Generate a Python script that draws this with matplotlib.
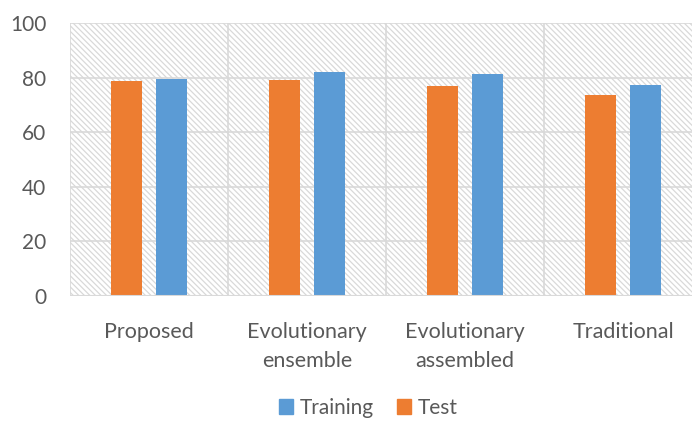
import numpy as np
import matplotlib
matplotlib.use("Agg")
import matplotlib.pyplot as plt
from matplotlib.patches import Rectangle, Patch

plt.rcParams["font.family"] = ["Lato", "DejaVu Sans"]
plt.rcParams["hatch.color"] = "#d4d4d4"
plt.rcParams["hatch.linewidth"] = 0.9

categories = ["Proposed", "Evolutionary\nensemble", "Evolutionary\nassembled", "Traditional"]
training = [79.5, 82.0, 81.5, 77.3]
test = [78.8, 79.1, 76.9, 73.6]

TXT = "#595959"
GRID = "#d9d9d9"
BLUE = "#5b9bd5"
ORANGE = "#ed7d31"

fig = plt.figure(figsize=(6.92, 4.21), dpi=100)
ax = fig.add_axes([70 / 692, 1 - 296 / 421, 632 / 692, 273 / 421])

n = len(categories)
ax.set_xlim(0, n)
ax.set_ylim(0, 100)

# hatched plot background
ax.add_patch(Rectangle((0, 0), n, 100, facecolor="white", edgecolor=GRID,
                       hatch="\\" * 6, lw=0, zorder=0))

x = np.arange(n) + 0.5
w = 0.196
off = 0.142
ax.bar(x - off, test, w, color=ORANGE, zorder=3)
ax.bar(x + off, training, w, color=BLUE, zorder=3)

for yv in range(20, 101, 20):
    ax.axhline(yv, color=GRID, lw=1.2, zorder=1)
for xv in range(n + 1):
    ax.axvline(xv, color=GRID, lw=1.2, zorder=1)

for s in ax.spines.values():
    s.set_visible(False)
ax.axhline(0, color=GRID, lw=1.5, zorder=4)

ax.set_yticks(range(0, 101, 20))
ax.set_xticks(x)
ax.set_xticklabels(categories, linespacing=1.55)
ax.tick_params(length=0, labelsize=15.5, colors=TXT, pad=19)
ax.tick_params(axis="y", labelsize=15, pad=17)

handles = [Patch(color=BLUE, label="Training"), Patch(color=ORANGE, label="Test")]
fig.legend(handles=handles, loc="center", bbox_to_anchor=(368 / 692, 1 - 408 / 421),
           ncol=2, frameon=False, fontsize=15, labelcolor=TXT,
           handlelength=0.7, handleheight=0.7, handletextpad=0.3, columnspacing=1.1)

fig.savefig("out.png", dpi=100)
